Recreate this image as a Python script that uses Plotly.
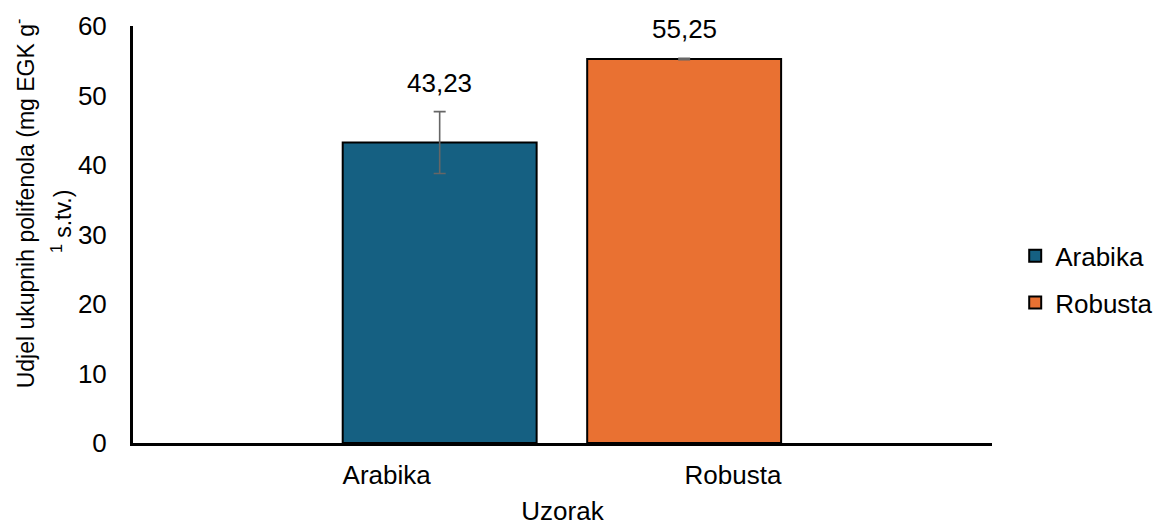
import plotly.graph_objects as go

# ---- data ----
categories = ["Arabika", "Robusta"]
series_names = ["Arabika", "Robusta"]
values = [43.23, 55.25]
errors = [4.45, 0.1]
colors = ["#156082", "#E97132"]
value_labels = ["43,23", "55,25"]
y_ticks = [0, 10, 20, 30, 40, 50, 60]

# ---- styling / layout constants ----
FONT = "Liberation Sans, Arial, sans-serif"
FS = 26
FS_YTITLE = 23
bar_width = 0.56
bar_offsets = [-0.127, -0.421]

fig = go.Figure()
for i, (name, cat, v, e, c, off) in enumerate(zip(series_names, categories, values, errors, colors, bar_offsets)):
    fig.add_trace(go.Bar(
        x=[cat], y=[v], name=name,
        width=bar_width, offset=off,
        marker=dict(color=c, line=dict(color="#000000", width=2)),
        error_y=dict(type="data", array=[e], visible=True, color="#666666", thickness=1.6, width=6),
        legendgroup=name,
    ))
    fig.add_annotation(
        x=i + off + bar_width / 2, y=v + e, xref="x", yref="y",
        text=value_labels[i], showarrow=False, yanchor="bottom", yshift=12,
        font=dict(family=FONT, size=FS, color="#000000"),
    )

# y-axis title (two wrapped lines, as in the original)
fig.add_annotation(
    x=-0.1265, y=0.5755, xref="paper", yref="paper", textangle=-90,
    text="Udjel ukupnih polifenola (mg EGK g<sup>-</sup>", showarrow=False,
    xanchor="center", yanchor="middle", font=dict(family=FONT, size=FS_YTITLE, color="#000000"),
)
fig.add_annotation(
    x=-0.0827, y=0.532, xref="paper", yref="paper", textangle=-90,
    text="<sup>1</sup> s.tv.)", showarrow=False,
    xanchor="center", yanchor="middle", font=dict(family=FONT, size=FS_YTITLE, color="#000000"),
)

fig.update_layout(
    width=1156, height=526,
    margin=dict(l=133, r=164, t=26, b=83, autoexpand=False),
    paper_bgcolor="white", plot_bgcolor="white",
    font=dict(family=FONT, size=FS, color="#000000"),
    showlegend=True,
    legend=dict(xref="container", yref="container", x=0.8782, xanchor="left", y=0.469, yanchor="middle",
                font=dict(family=FONT, size=FS, color="#000000"),
                tracegroupgap=10, bgcolor="rgba(0,0,0,0)"),
    xaxis=dict(
        type="category", categoryorder="array", categoryarray=categories,
        range=[-0.7326, 1.748], showgrid=False, zeroline=False, automargin=False,
        showline=True, linecolor="#000000", linewidth=3, ticks="",
        ticklabelstandoff=7,
        title=dict(text="Uzorak", standoff=25, font=dict(family=FONT, size=FS, color="#000000")),
    ),
    yaxis=dict(
        range=[0, 60], tickvals=y_ticks, showgrid=False, zeroline=False, automargin=False,
        showline=True, linecolor="#000000", linewidth=3, ticks="",
        ticklabelstandoff=18,
    ),
)

fig.write_html("out.html", config={"displayModeBar": False},
               post_script="document.body.style.margin='0';")
